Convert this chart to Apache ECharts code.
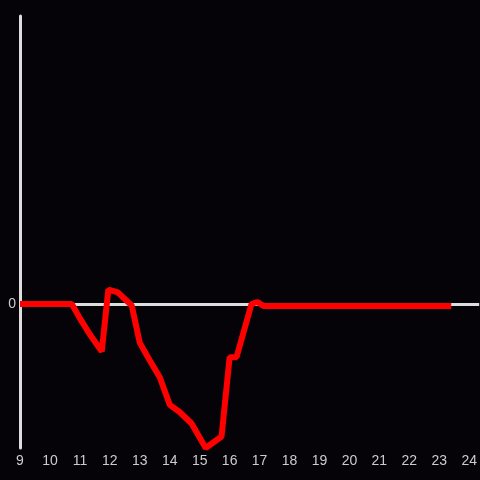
<!DOCTYPE html>
<html>
<head>
<meta charset="utf-8">
<script src="https://cdn.jsdelivr.net/npm/echarts@6/dist/echarts.min.js"></script>
<style>
  html, body { margin: 0; padding: 0; background: #050307; }
  #chart { width: 480px; height: 480px; }
</style>
</head>
<body>
<div id="chart"></div>
<script>
// hours of the day and the values
const hours = [9, 10.73, 11.0, 11.33, 11.73, 11.95, 12.27, 12.73, 13.0, 13.33, 13.67, 14.0, 14.33, 14.73, 15.2, 15.73, 16.0, 16.23, 16.73, 16.93, 17.13, 23.4]
const values = [0, 0, -0.1, -0.21, -0.33, 0.1, 0.08, -0.01, -0.27, -0.39, -0.51, -0.7, -0.75, -0.83, -1.0, -0.92, -0.37, -0.37, 0, 0.014, -0.014, -0.014]
const xTicks = [9, 10, 11, 12, 13, 14, 15, 16, 17, 18, 19, 20, 21, 22, 23, 24]

const myChart = echarts.init(document.getElementById('chart'))
myChart.setOption({
  backgroundColor: '#050307',
  animation: false,
  grid: { left: 20, right: 0, top: 16, bottom: 32 },
  xAxis: {
    type: 'value',
    min: 9,
    max: 24.333,
    interval: 1,
    axisLine: { show: false },
    axisTick: { show: false },
    splitLine: { show: false },
    axisLabel: {
      color: '#cccccc',
      fontSize: 14,
      margin: 6,
      showMaxLabel: false,
      formatter: v => (xTicks.indexOf(v) >= 0 ? String(v) : '')
    }
  },
  yAxis: {
    type: 'value',
    min: -1,
    max: 2,
    interval: 1,
    axisLine: { show: true, lineStyle: { color: '#dddddd', width: 3 } },
    axisTick: { show: false },
    splitLine: { show: false },
    axisLabel: {
      color: '#cccccc',
      fontSize: 14,
      margin: 4,
      formatter: v => (v === 0 ? '0' : '')
    }
  },
  series: [
    {
      // zero line
      type: 'line',
      data: [],
      z: 1,
      markLine: {
        silent: true,
        symbol: 'none',
        label: { show: false },
        lineStyle: { color: '#dddddd', width: 3, type: 'solid' },
        data: [{ yAxis: 0 }]
      }
    },
    {
      type: 'line',
      data: hours.map((h, i) => [h, values[i]]),
      showSymbol: false,
      z: 5,
      lineStyle: { color: '#ff0000', width: 6 }
    }
  ]
})
</script>
</body>
</html>
